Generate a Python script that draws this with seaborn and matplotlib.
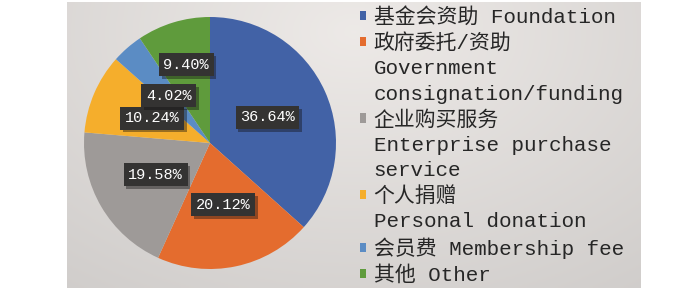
import numpy as np
import matplotlib
matplotlib.use("Agg")
import matplotlib.pyplot as plt
import matplotlib.patheffects as pe
from matplotlib.patches import Patch
import seaborn as sns

# data
shares = [36.64, 20.12, 19.58, 10.24, 4.02, 9.40]
labels = [
    ["基金会资助 Foundation"],
    ["政府委托/资助", "Government", "consignation/funding"],
    ["企业购买服务", "Enterprise purchase", "service"],
    ["个人捐赠", "Personal donation"],
    ["会员费 Membership fee"],
    ["其他 Other"],
]
colors = ["#4262a6", "#e46c2e", "#9e9a98", "#f5ae2c", "#5b8cc4", "#5f9b3c"]

sns.set_theme(style="white")
plt.rcParams["font.family"] = ["Liberation Mono", "Noto Sans CJK SC"]

W, H = 700, 290
fig = plt.figure(figsize=(7, 2.9), dpi=100)
fig.patch.set_facecolor("white")

# gray gradient panel behind everything
bg = fig.add_axes([0, 0, 1, 1])
bg.set_xlim(0, W)
bg.set_ylim(H, 0)
bg.axis("off")
x0, x1, y0, y1 = 67, 641, 2, 288
xx, yy = np.meshgrid(np.linspace(0, 1, 200), np.linspace(0, 1, 100))
d = np.sqrt(((xx - 0.5) / 0.9) ** 2 + ((yy - 0.1) / 1.2) ** 2)
shade = 0.93 - 0.12 * d
img = np.dstack([shade, shade * 0.985, shade * 0.975])
bg.imshow(np.clip(img, 0, 1), extent=[x0, x1, y1, y0], aspect="auto", zorder=0)

# pie
cx, cy, r = 210, 143, 126
ax = fig.add_axes([(cx - r) / W, (H - cy - r) / H, 2 * r / W, 2 * r / H])
wedges, texts, autotexts = ax.pie(
    shares, colors=colors, startangle=90, counterclock=False,
    autopct=lambda p: f"{p:.2f}%", pctdistance=0.5,
    wedgeprops=dict(linewidth=0),
    textprops=dict(color="white", fontsize=11),
)
ax.set_aspect("equal")
ax.set_xlim(-1, 1)
ax.set_ylim(-1, 1)

for t in autotexts:
    t.set_bbox(dict(boxstyle="square,pad=0.3", fc="#343332", ec="none"))
    t.get_bbox_patch().set_path_effects(
        [pe.SimplePatchShadow(offset=(2, -2), alpha=0.4), pe.Normal()])
# the last label sits further out
px, py = autotexts[-1].get_position()
autotexts[-1].set_position((px * 1.3, py * 1.3))

# legend, one entry per text line
handles, lines = [], []
for col, lab in zip(colors, labels):
    for i, line in enumerate(lab):
        if i == 0:
            handles.append(Patch(facecolor=col, edgecolor="none"))
        else:
            handles.append(Patch(facecolor="none", edgecolor="none"))
        lines.append(line)

fig.legend(
    handles, lines, loc="upper left", bbox_to_anchor=(360 / W, 1 - 7 / H),
    frameon=False, fontsize=15, labelspacing=0.3,
    handlelength=0.3, handleheight=0.3, handletextpad=0.35, borderpad=0,
    borderaxespad=0,
)

fig.savefig("out.png", dpi=100, facecolor="white")
